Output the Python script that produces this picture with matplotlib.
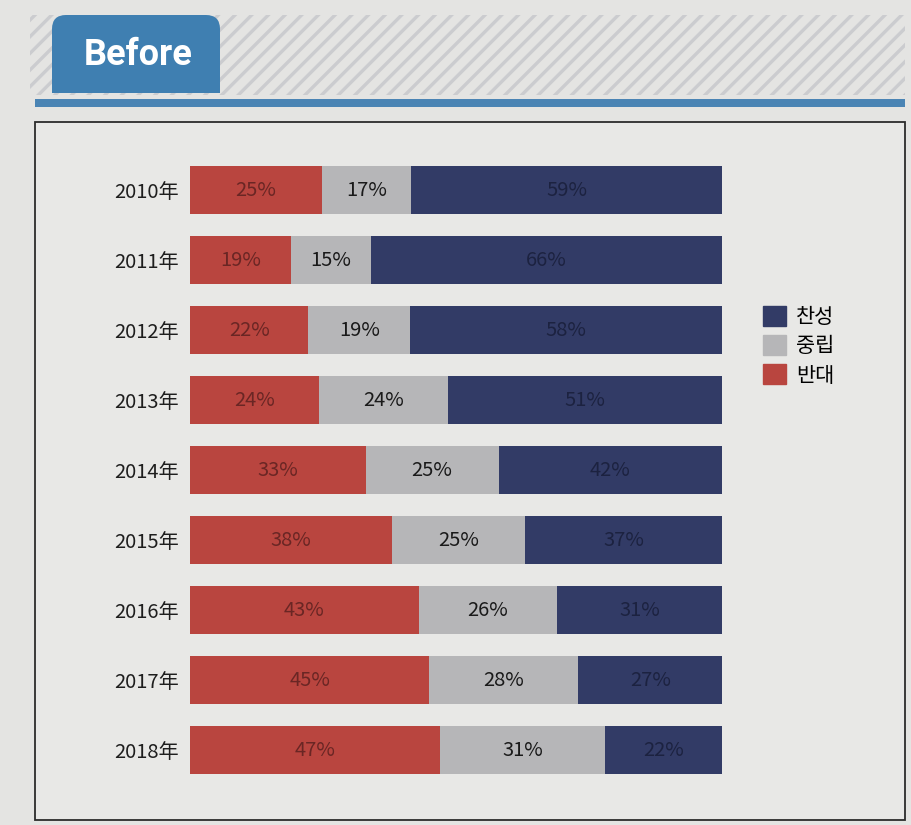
import matplotlib
matplotlib.use("Agg")
import matplotlib.pyplot as plt
import numpy as np
from matplotlib.patches import Rectangle, FancyBboxPatch, Patch

# --- 데이터 ---
years = ["2010年", "2011年", "2012年", "2013年", "2014年",
         "2015年", "2016年", "2017年", "2018年"]
oppose = [25, 19, 22, 24, 33, 38, 43, 45, 47]     # 반대
neutral = [17, 15, 19, 24, 25, 25, 26, 28, 31]    # 중립
agree = [59, 66, 58, 51, 42, 37, 31, 27, 22]      # 찬성

FONT = ["Noto Sans CJK KR", "DejaVu Sans"]
plt.rcParams["font.family"] = FONT
plt.rcParams["hatch.linewidth"] = 2.4

RED, GRAY, NAVY = "#b9453f", "#b6b6b8", "#323b66"
PAGE = "#e4e4e2"

W, H = 911, 825
fig = plt.figure(figsize=(W / 100, H / 100), dpi=100, facecolor=PAGE)

# --- 배경 장식 (픽셀 좌표) ---
bg = fig.add_axes([0, 0, 1, 1], zorder=0)
bg.set_xlim(0, W)
bg.set_ylim(H, 0)
bg.axis("off")
bg.add_patch(Rectangle((30, 15), 875, 80, facecolor="none",
                       edgecolor="#cbcccf", hatch="//", linewidth=0))
# 탭: 위쪽만 둥글게
bg.add_patch(FancyBboxPatch((52, 15), 168, 78,
                            boxstyle="round,pad=0,rounding_size=14",
                            facecolor="#3f7fb1", edgecolor="none"))
bg.add_patch(Rectangle((52, 60), 168, 33, facecolor="#3f7fb1", edgecolor="none"))
bg.text(138, 55, "Before", color="white", fontsize=26, fontweight="bold",
        family="Roboto", ha="center", va="center")
bg.add_patch(Rectangle((35, 99), 870, 8, facecolor="#4a84b4", edgecolor="none"))
bg.add_patch(Rectangle((35, 122), 870, 698, facecolor="#e8e8e6",
                       edgecolor="#2b2b2b", linewidth=1.3))

# --- 100% 누적 막대 ---
ax = fig.add_axes([190 / W, 1 - 785 / H, (722 - 190) / W, (785 - 155) / H],
                  zorder=1)
ax.patch.set_alpha(0)

vals = np.array([oppose, neutral, agree], dtype=float)
shares = vals / vals.sum(axis=0) * 100
y = np.arange(len(years))
colors = [RED, GRAY, NAVY]
txt_colors = ["#6a2624", "#1a1a1a", "#1c2240"]

left = np.zeros(len(years))
for k in range(3):
    bars = ax.barh(y, shares[k], left=left, height=0.69, color=colors[k],
                   edgecolor="none")
    for b, v in zip(bars, vals[k]):
        ax.text(b.get_x() + b.get_width() / 2, b.get_y() + b.get_height() / 2,
                f"{v:.0f}%", ha="center", va="center", fontsize=14.5,
                color=txt_colors[k])
    left += shares[k]

ax.set_xlim(0, 100)
ax.set_ylim(len(years) - 0.5, -0.5)
ax.set_yticks(y, years, fontsize=14.5, color="#1e1e1e")
ax.tick_params(axis="y", length=0, pad=8)
ax.set_xticks([])
for s in ax.spines.values():
    s.set_visible(False)

handles = [Patch(color=NAVY), Patch(color=GRAY), Patch(color=RED)]
fig.legend(handles, ["찬성", "중립", "반대"], loc="upper left",
           bbox_to_anchor=(744 / W, 1 - 287 / H), frameon=False, fontsize=15,
           handlelength=1.1, handleheight=1.1, handletextpad=0.5,
           labelspacing=0.35)

fig.savefig("out.png", dpi=100, facecolor=PAGE)
